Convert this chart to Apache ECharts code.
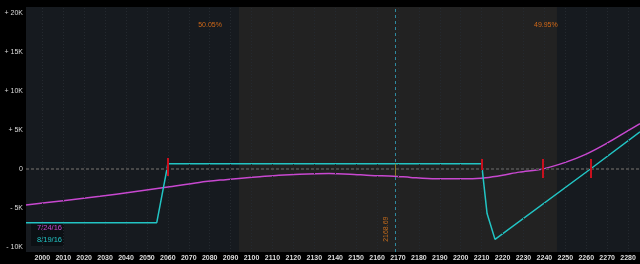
<!DOCTYPE html>
<html><head><meta charset="utf-8">
<script src="https://cdn.jsdelivr.net/npm/echarts@6/dist/echarts.min.js"></script>
<style>html,body{margin:0;padding:0;background:#000;}#c{width:640px;height:264px;}</style>
</head><body><div id="c"></div>
<script>
// Data
const xTicks = [2000,2010,2020,2030,2040,2050,2060,2070,2080,2090,2100,2110,2120,2130,2140,2150,2160,2170,2180,2190,2200,2210,2220,2230,2240,2250,2260,2270,2280];
const yTicks = [-10000,-5000,0,5000,10000,15000,20000];
const seriesNames = ['7/24/16','8/19/16'];
const pnl0724 = [[1992.2,-4600],[2010,-4050],[2027.6,-3500],[2043,-2950],[2060,-2300],[2075,-1720],[2085,-1420],[2094,-1200],[2104,-980],[2113,-790],[2123,-660],[2137,-580],[2147,-660],[2157,-820],[2168,-920],[2176,-1080],[2188,-1250],[2204,-1260],[2212,-1120],[2220,-800],[2228,-400],[2239,0],[2250,850],[2260,1900],[2270,3300],[2280,4900],[2285.7,5800]];
const pnl0819 = [[1992.2,-6870],[2054.7,-6870],[2057.8,-2500],[2059.5,-100],[2060,680],[2210,680],[2211,-1800],[2212.6,-5700],[2216.4,-9000],[2262,0],[2285.7,4750]];
const currentPrice = 2168.69;
const sigmaRange = [2094, 2246];
const probLeft = '50.05%', probRight = '49.95%';
const breakevens = [2060, 2239, 2262];
const strikeMark = 2210;

const chart = echarts.init(document.getElementById('c'), null, {renderer:'canvas'});
const FONT = 'Liberation Sans';
chart.setOption({
  backgroundColor:'#000',
  animation:false,
  grid:{left:26,right:0,top:7,bottom:12,show:true,backgroundColor:'#161a1f',borderWidth:0},
  legend:{
    data:[{name:seriesNames[0],textStyle:{color:'#c848d0'}},{name:seriesNames[1],textStyle:{color:'#22c4c4'}}],
    orient:'vertical',left:31,top:222,icon:'none',itemWidth:0,itemHeight:8,itemGap:4,padding:[2,2,2,1],
    backgroundColor:'#0c1014',textStyle:{fontFamily:FONT,fontSize:7.5},selectedMode:false
  },
  xAxis:{type:'value',min:1992.2,max:2285.7,
    axisLine:{show:false},axisTick:{show:false},splitLine:{show:false},
    axisLabel:{customValues:xTicks,color:'#dddddd',fontFamily:FONT,fontWeight:'bold',fontSize:7,margin:3,formatter:v=>String(v)}
  },
  yAxis:{type:'value',min:-10614,max:20716,
    axisLine:{show:false},axisTick:{show:false},splitLine:{show:false},
    axisLabel:{customValues:yTicks,color:'#dddddd',fontFamily:FONT,fontSize:7,margin:3,
      formatter:v=>v===0?'0':(v>0?'+ ':'- ')+Math.abs(v/1000)+'K'}
  },
  series:[
    {type:'line',name:'_bg',data:[],silent:true,
      markArea:{silent:true,itemStyle:{color:'#222222'},data:[[{xAxis:sigmaRange[0]},{xAxis:sigmaRange[1]}]]},
      markLine:{silent:true,symbol:'none',label:{show:false},
        lineStyle:{color:'#24292f',width:1,type:[1,2]},
        data:xTicks.map(t=>({xAxis:t}))}
    },
    {type:'line',name:'_zero',data:[],silent:true,
      markLine:{silent:true,symbol:'none',label:{show:false},
        lineStyle:{color:'#484848',width:2,type:[3,2]},
        data:[{yAxis:0}]},
      markPoint:{silent:true,symbol:'rect',symbolSize:0,data:[
        {coord:[2080.2,18400],label:{show:true,formatter:probLeft,color:'#d06818',fontFamily:FONT,fontSize:7}},
        {coord:[2240.7,18400],label:{show:true,formatter:probRight,color:'#d06818',fontFamily:FONT,fontSize:7}},
        {coord:[2164.3,-7700],label:{show:true,formatter:String(currentPrice),rotate:90,color:'#c06a1c',fontFamily:FONT,fontSize:7}}
      ]}
    },
    {type:'line',name:'_price',data:[],silent:true,
      markLine:{silent:true,symbol:'none',label:{show:false},
        lineStyle:{color:'#2f8aa0',width:1,type:[3,3],opacity:1},
        emphasis:{disabled:true},
        data:[{xAxis:currentPrice}]}
    },
    {type:'line',name:seriesNames[0],data:pnl0724,smooth:0.3,showSymbol:false,
      lineStyle:{color:'#c848d0',width:1.5},itemStyle:{color:'#c848d0'},z:3},
    {type:'line',name:seriesNames[1],data:pnl0819,showSymbol:false,
      lineStyle:{color:'#22c4c4',width:1.5},itemStyle:{color:'#22c4c4'},z:4,
      markLine:{silent:true,symbol:'none',label:{show:false},data:[
        [{coord:[currentPrice,680],lineStyle:{color:'#8a7a2a',width:1,type:'solid'}},{coord:[currentPrice,-900]}],
        [{coord:[breakevens[0],1400],lineStyle:{color:'#c8101e',width:2,type:'solid'}},{coord:[breakevens[0],-900]}],
        [{coord:[strikeMark,1280],lineStyle:{color:'#c8101e',width:2,type:'solid'}},{coord:[strikeMark,-130]}],
        [{coord:[breakevens[1],1280],lineStyle:{color:'#c8101e',width:2,type:'solid'}},{coord:[breakevens[1],-1150]}],
        [{coord:[breakevens[2],1280],lineStyle:{color:'#c8101e',width:2,type:'solid'}},{coord:[breakevens[2],-1150]}]
      ]}
    }
  ]
});
</script></body></html>
